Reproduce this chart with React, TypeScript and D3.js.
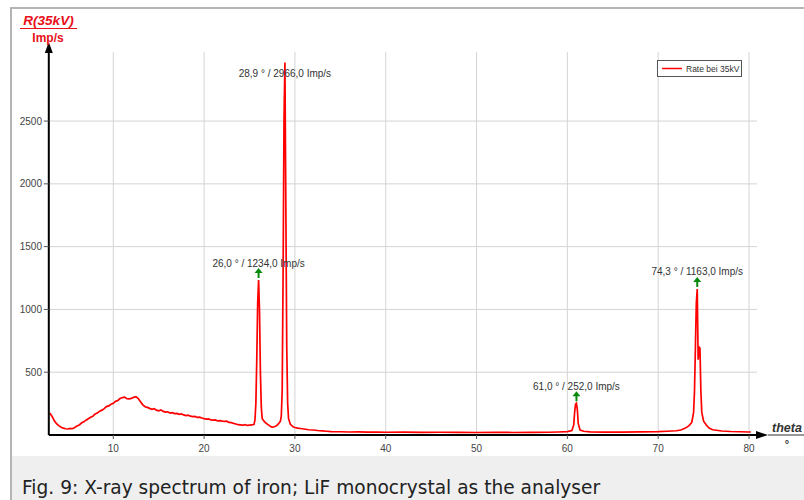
import React, { useEffect, useRef } from 'react';
import * as d3 from 'd3';

type Pt = [number, number];

// background bremsstrahlung, theta 3..25.5
const background: Pt[] = [
  [3.0, 175], [3.25, 150], [3.5, 115], [3.75, 90], [4.0, 75], [4.25, 62], [4.5, 55], [4.75, 50],
  [5.0, 48], [5.25, 52], [5.5, 50], [5.75, 60], [6.0, 72], [6.25, 80], [6.5, 95], [6.75, 105],
  [7.0, 118], [7.25, 130], [7.5, 142], [7.75, 150], [8.0, 168], [8.25, 175], [8.5, 190], [8.75, 198],
  [9.0, 210], [9.25, 226], [9.5, 232], [9.75, 245], [10.0, 252], [10.25, 268], [10.5, 275], [10.75, 290],
  [11.0, 298], [11.25, 302], [11.5, 290], [11.75, 288], [12.0, 292], [12.25, 300], [12.5, 305], [12.75, 290],
  [13.0, 265], [13.25, 240], [13.5, 225], [13.75, 220], [14.0, 212], [14.25, 205], [14.5, 210], [14.75, 198],
  [15.0, 192], [15.25, 200], [15.5, 188], [15.75, 182], [16.0, 185], [16.25, 175], [16.5, 178], [16.75, 170],
  [17.0, 172], [17.25, 165], [17.5, 168], [17.75, 160], [18.0, 155], [18.25, 158], [18.5, 150], [18.75, 146],
  [19.0, 148], [19.25, 140], [19.5, 142], [19.75, 135], [20.0, 130], [20.25, 126], [20.5, 128], [20.75, 120],
  [21.0, 118], [21.25, 120], [21.5, 112], [21.75, 115], [22.0, 110], [22.25, 108], [22.5, 110], [22.75, 100],
  [23.0, 98], [23.25, 92], [23.5, 88], [23.75, 82], [24.0, 80], [24.25, 78], [24.5, 82], [24.75, 76],
  [25.0, 78], [25.25, 80], [25.5, 85],
];

// K-beta and K-alpha lines, first order
const firstOrder: Pt[] = [
  [25.6, 120], [25.7, 250], [25.8, 600], [25.9, 1050], [26.0, 1234], [26.1, 1000], [26.2, 500], [26.3, 220],
  [26.4, 130], [26.6, 110], [26.8, 95], [27.0, 85], [27.2, 75], [27.4, 65], [27.6, 62], [27.8, 68],
  [28.0, 75], [28.2, 90], [28.4, 110], [28.5, 150], [28.6, 350], [28.7, 1300], [28.8, 2520], [28.9, 2966],
  [29.0, 1830], [29.1, 700], [29.2, 250], [29.3, 130], [29.5, 85], [29.8, 65], [30.0, 60], [30.3, 55], [30.6, 52],
];

const tail: Pt[] = [
  [31, 48], [31.5, 42], [32, 40], [32.5, 36], [33, 33], [33.5, 30], [34, 27], [35, 26], [36, 24],
  [37, 25], [38, 23], [39, 24], [40, 22], [42, 23], [44, 21], [46, 22], [48, 21], [50, 20], [52, 21],
  [54, 20], [56, 21], [58, 22], [59, 24], [60, 27], [60.5, 35],
];

// second order lines
const secondOrder: Pt[] = [
  [60.7, 80], [60.8, 180], [60.9, 245], [61.0, 252], [61.1, 200], [61.2, 90], [61.4, 40], [61.8, 30],
  [62.5, 25], [64, 23], [66, 23], [68, 25], [70, 27], [71, 30], [72, 34], [72.5, 40], [73, 55],
  [73.4, 75], [73.7, 100], [73.9, 180], [74.0, 350], [74.1, 700], [74.2, 1050], [74.3, 1163], [74.4, 600],
  [74.5, 700], [74.6, 690], [74.7, 350], [74.8, 180], [75.0, 110], [75.3, 80], [75.6, 55], [76, 42],
  [77, 32], [78, 28], [79, 26], [80, 24], [80.2, 24],
];

const peaks: Pt[] = [[26.0, 1234], [28.9, 2966], [61.0, 252], [74.3, 1163]];
const xTicks = [10, 20, 30, 40, 50, 60, 70, 80];
const yTicks = [500, 1000, 1500, 2000, 2500];

const fmt = (v: number) => v.toFixed(1).replace('.', ',');

const App: React.FC = () => {
  const ref = useRef<SVGSVGElement | null>(null);

  useEffect(() => {
    if (!ref.current) return;
    const svg = d3.select(ref.current);
    svg.selectAll('*').remove();

    const x = d3.scaleLinear().domain([2.9, 80]).range([48.8, 749]);
    const y = d3.scaleLinear().domain([0, 3050]).range([435, 52]);
    const top = 52;
    const font = '"Liberation Sans", Arial, sans-serif';

    // page frame
    svg.append('rect').attr('x', 0).attr('y', 0).attr('width', 804).attr('height', 500).attr('fill', '#fff');
    svg.append('rect').attr('x', 12).attr('y', 456).attr('width', 792).attr('height', 44).attr('fill', '#efefef');
    svg.append('rect').attr('x', 10).attr('y', 7).attr('width', 794).attr('height', 2).attr('fill', '#b4b4b4');
    svg.append('rect').attr('x', 10).attr('y', 7).attr('width', 2).attr('height', 493).attr('fill', '#b4b4b4');

    // grid
    const grid = svg.append('g').attr('stroke', '#d4d4d4').attr('stroke-width', 1);
    xTicks.forEach((t) => {
      grid.append('line').attr('x1', x(t)).attr('x2', x(t)).attr('y1', top).attr('y2', y(0));
    });
    yTicks.forEach((t) => {
      grid.append('line').attr('x1', x(2.9)).attr('x2', 757).attr('y1', y(t)).attr('y2', y(t));
    });

    // spectrum
    const data = [...background, ...firstOrder, ...tail, ...secondOrder];
    svg.append('defs').append('clipPath').attr('id', 'plot')
      .append('rect').attr('x', x(2.9)).attr('y', top).attr('width', 760 - x(2.9)).attr('height', y(0) - top);
    const line = d3.line<Pt>().x((d) => x(d[0])).y((d) => y(d[1]));
    svg.append('path').datum(data).attr('d', line).attr('fill', 'none')
      .attr('stroke', '#ff0000').attr('stroke-width', 1.7).attr('clip-path', 'url(#plot)');

    // axes
    const axis = svg.append('g').attr('stroke', '#000').attr('stroke-width', 2);
    axis.append('line').attr('x1', x(2.9)).attr('x2', 760).attr('y1', y(0)).attr('y2', y(0));
    axis.append('line').attr('x1', x(2.9)).attr('x2', x(2.9)).attr('y1', y(0)).attr('y2', 50);
    svg.append('path').attr('d', `M${x(2.9)},42 L${x(2.9) - 4},53 L${x(2.9) + 4},53 Z`).attr('fill', '#000');
    svg.append('path').attr('d', `M768,${y(0)} L756,${y(0) - 4} L756,${y(0) + 4} Z`).attr('fill', '#000');

    xTicks.forEach((t) => {
      svg.append('line').attr('x1', x(t)).attr('x2', x(t)).attr('y1', y(0)).attr('y2', y(0) + 4)
        .attr('stroke', '#555');
      svg.append('text').attr('x', x(t)).attr('y', 452).attr('text-anchor', 'middle')
        .attr('font-family', font).attr('font-size', 10).attr('fill', '#444').text(t);
    });
    yTicks.forEach((t) => {
      svg.append('line').attr('x1', x(2.9) - 5).attr('x2', x(2.9)).attr('y1', y(t)).attr('y2', y(t))
        .attr('stroke', '#555');
      svg.append('text').attr('x', 42).attr('y', y(t) + 3.5).attr('text-anchor', 'end')
        .attr('font-family', font).attr('font-size', 10).attr('fill', '#444').text(t);
    });

    // axis titles
    svg.append('text').attr('x', 48.5).attr('y', 25).attr('text-anchor', 'middle')
      .attr('font-family', font).attr('font-size', 13.5).attr('font-weight', 'bold').attr('font-style', 'italic')
      .attr('fill', '#e8101a').text('R(35kV)');
    svg.append('line').attr('x1', 20).attr('x2', 77).attr('y1', 28.5).attr('y2', 28.5)
      .attr('stroke', '#e8101a').attr('stroke-width', 1.2);
    svg.append('text').attr('x', 48).attr('y', 42).attr('text-anchor', 'middle')
      .attr('font-family', font).attr('font-size', 12).attr('font-weight', 'bold')
      .attr('fill', '#e8101a').text('Imp/s');

    svg.append('text').attr('x', 772).attr('y', 432)
      .attr('font-family', font).attr('font-size', 12.5).attr('font-weight', 'bold').attr('font-style', 'italic')
      .attr('fill', '#333').text('theta');
    svg.append('line').attr('x1', 768).attr('x2', 804).attr('y1', 435).attr('y2', 435)
      .attr('stroke', '#333').attr('stroke-width', 1);
    svg.append('text').attr('x', 787).attr('y', 448).attr('text-anchor', 'middle')
      .attr('font-family', font).attr('font-size', 11).attr('font-weight', 'bold')
      .attr('fill', '#333').text('°');

    // peak annotations
    peaks.forEach(([t, v]) => {
      const px = x(t);
      const py = y(v);
      const clipped = py - 14 < 60;
      const ly = clipped ? 77 : py - 13.5;
      svg.append('text').attr('x', px).attr('y', ly).attr('text-anchor', 'middle')
        .attr('font-family', font).attr('font-size', 10).attr('fill', '#333')
        .text(`${fmt(t)} ° / ${fmt(v)} Imp/s`);
      if (!clipped) {
        svg.append('path').attr('d', `M${px},${py - 12} L${px - 4},${py - 7} L${px + 4},${py - 7} Z`)
          .attr('fill', '#0a8a0a');
        svg.append('line').attr('x1', px).attr('x2', px).attr('y1', py - 8).attr('y2', py - 2)
          .attr('stroke', '#0a8a0a').attr('stroke-width', 2);
      }
    });

    // legend
    svg.append('rect').attr('x', 657.5).attr('y', 60.5).attr('width', 84).attr('height', 16)
      .attr('fill', '#fff').attr('stroke', '#555');
    svg.append('line').attr('x1', 662).attr('x2', 682).attr('y1', 68.5).attr('y2', 68.5)
      .attr('stroke', '#ff0000').attr('stroke-width', 1.5);
    svg.append('text').attr('x', 686).attr('y', 71.5).attr('font-family', font).attr('font-size', 8.5)
      .attr('fill', '#333').text('Rate bei 35kV');

    // caption
    svg.append('text').attr('x', 22).attr('y', 494).attr('font-family', '"DejaVu Sans", sans-serif')
      .attr('font-size', 18.6).attr('fill', '#222')
      .text('Fig. 9: X-ray spectrum of iron; LiF monocrystal as the analyser');
  }, []);

  return (
    <div style={{ position: 'fixed', left: 0, top: 0 }}>
      <svg ref={ref} width={804} height={500} style={{ display: 'block' }} />
    </div>
  );
};

export default App;
